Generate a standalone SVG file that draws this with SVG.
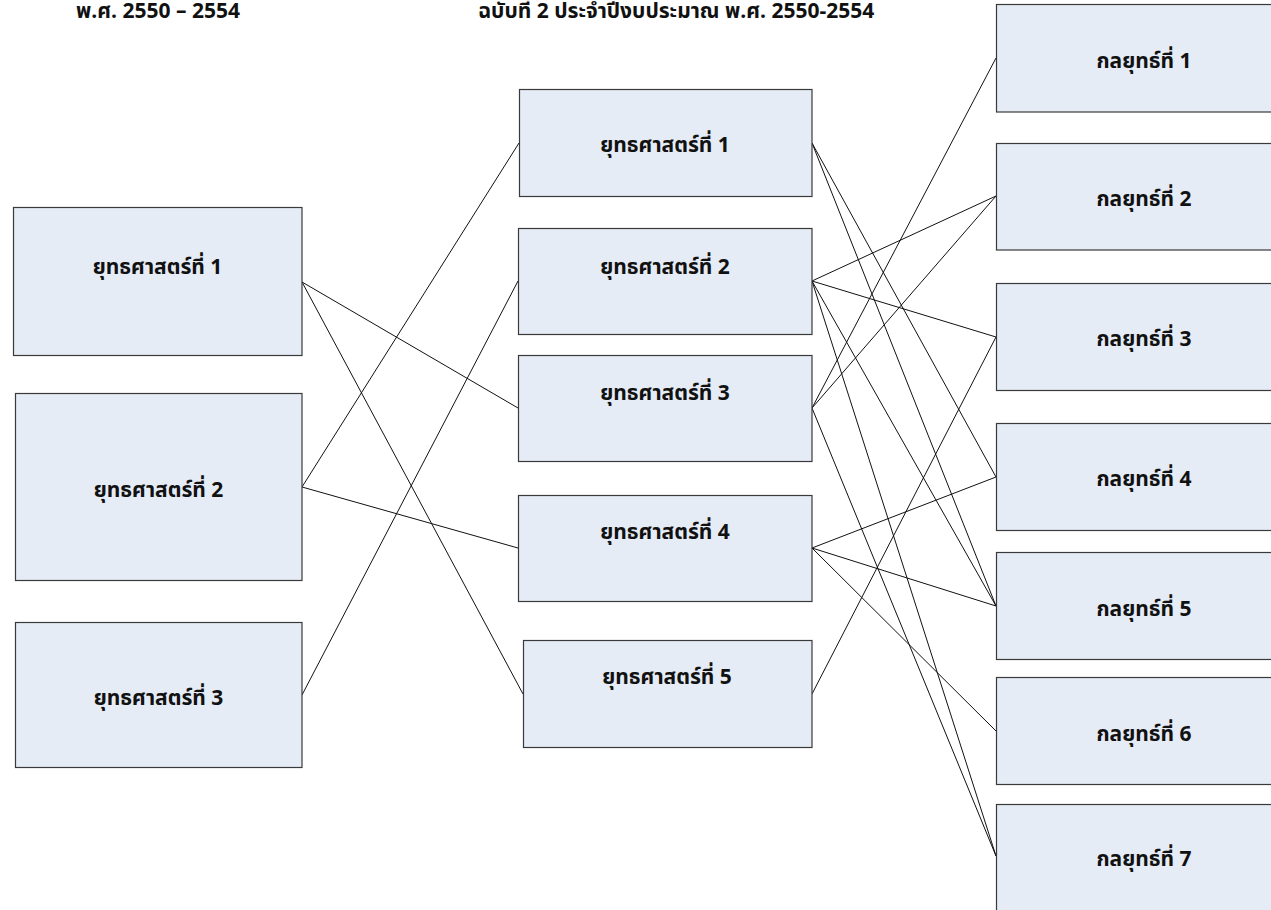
<svg xmlns="http://www.w3.org/2000/svg" width="1271" height="910" viewBox="0 0 1271 910">
  <style>
    .box { fill: #e5ecf6; stroke: #3a3a3a; stroke-width: 1.2; }
    .lbl { font-family: "Noto Sans Thai", "Noto Sans", "DejaVu Sans", sans-serif; font-size: 21px; font-weight: bold; fill: #111; text-anchor: middle; }
    .hdr { font-family: "Noto Sans Thai", "Noto Sans", "DejaVu Sans", sans-serif; font-size: 21px; font-weight: bold; fill: #111; }
    .conn line { stroke: #111; stroke-width: 1; }
  </style>
  <rect width="1271" height="910" fill="#ffffff"/>

  <!-- column headings (top edge runs off the sheet) -->
  <g id="headings">
    <text class="hdr" x="76" y="18">พ.ศ. 2550 – 2554</text>
    <text class="hdr" x="478" y="18">ฉบับที่ 2 ประจำปีงบประมาณ พ.ศ. 2550-2554</text>
  </g>

  <!-- connectors -->
  <g id="connectors" class="conn">
    <line x1="302" y1="282" x2="518" y2="408"/>
    <line x1="302" y1="282" x2="523" y2="694"/>
    <line x1="302" y1="487" x2="519" y2="143"/>
    <line x1="302" y1="487" x2="518" y2="548"/>
    <line x1="302" y1="695" x2="518" y2="281"/>

    <line x1="812" y1="143" x2="996" y2="477"/>
    <line x1="812" y1="143" x2="996" y2="606"/>
    <line x1="812" y1="281" x2="996" y2="196"/>
    <line x1="812" y1="281" x2="996" y2="337"/>
    <line x1="812" y1="281" x2="996" y2="606"/>
    <line x1="812" y1="281" x2="996" y2="856"/>
    <line x1="812" y1="408" x2="996" y2="58"/>
    <line x1="812" y1="408" x2="996" y2="196"/>
    <line x1="812" y1="408" x2="996" y2="856"/>
    <line x1="812" y1="548" x2="996" y2="477"/>
    <line x1="812" y1="548" x2="996" y2="606"/>
    <line x1="812" y1="548" x2="996" y2="731"/>
    <line x1="812" y1="694" x2="996" y2="337"/>
  </g>

  <!-- left column -->
  <g id="left-1"><rect class="box" x="13.5" y="207.5" width="288.5" height="148"/><text class="lbl" x="157.5" y="274">ยุทธศาสตร์ที่ 1</text></g>
  <g id="left-2"><rect class="box" x="15.5" y="393.5" width="286.5" height="187"/><text class="lbl" x="158.5" y="497">ยุทธศาสตร์ที่ 2</text></g>
  <g id="left-3"><rect class="box" x="15.5" y="622.5" width="286.5" height="145"/><text class="lbl" x="158.5" y="705">ยุทธศาสตร์ที่ 3</text></g>

  <!-- middle column -->
  <g id="mid-1"><rect class="box" x="519.5" y="89.5" width="292.5" height="107"/><text class="lbl" x="665" y="152">ยุทธศาสตร์ที่ 1</text></g>
  <g id="mid-2"><rect class="box" x="518.5" y="228.5" width="293.5" height="106"/><text class="lbl" x="665" y="274">ยุทธศาสตร์ที่ 2</text></g>
  <g id="mid-3"><rect class="box" x="518.5" y="355.5" width="293.5" height="106"/><text class="lbl" x="665" y="400">ยุทธศาสตร์ที่ 3</text></g>
  <g id="mid-4"><rect class="box" x="518.5" y="495.5" width="293.5" height="106"/><text class="lbl" x="665" y="539">ยุทธศาสตร์ที่ 4</text></g>
  <g id="mid-5"><rect class="box" x="523.5" y="640.5" width="288.5" height="107"/><text class="lbl" x="667" y="684">ยุทธศาสตร์ที่ 5</text></g>

  <!-- right column (boxes run past the right edge) -->
  <g id="right-1"><rect class="box" x="996.5" y="4.5" width="296" height="107.5"/><text class="lbl" x="1144" y="68">กลยุทธ์ที่ 1</text></g>
  <g id="right-2"><rect class="box" x="996.5" y="143.5" width="296" height="106.5"/><text class="lbl" x="1144" y="206">กลยุทธ์ที่ 2</text></g>
  <g id="right-3"><rect class="box" x="996.5" y="283.5" width="296" height="107"/><text class="lbl" x="1144" y="346">กลยุทธ์ที่ 3</text></g>
  <g id="right-4"><rect class="box" x="996.5" y="423.5" width="296" height="107"/><text class="lbl" x="1144" y="486">กลยุทธ์ที่ 4</text></g>
  <g id="right-5"><rect class="box" x="996.5" y="552.5" width="296" height="107"/><text class="lbl" x="1144" y="616">กลยุทธ์ที่ 5</text></g>
  <g id="right-6"><rect class="box" x="996.5" y="677.5" width="296" height="107"/><text class="lbl" x="1144" y="741">กลยุทธ์ที่ 6</text></g>
  <g id="right-7"><rect class="box" x="996.5" y="804.5" width="296" height="110"/><text class="lbl" x="1144" y="866">กลยุทธ์ที่ 7</text></g>
</svg>
